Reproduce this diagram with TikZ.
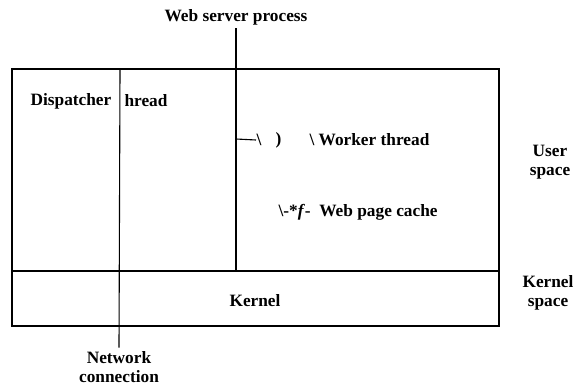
\documentclass[tikz,border=0pt]{standalone}
\usepackage{fontspec}
\setmainfont{Liberation Serif}
\newfontfamily\diagfont{Liberation Serif}
\usetikzlibrary{positioning}
\tikzset{every node/.style={align=center, inner sep=0pt, font=\diagfont\bfseries\fontsize{17.3}{19.5}\selectfont}}

\begin{document}
\begin{tikzpicture}[x=1pt, y=-1pt, line width=1.1pt]
            \useasboundingbox (0,0) rectangle (577,385);
            % outer box and kernel split
            \coordinate (nw) at (12,69);
            \coordinate (se) at (499,326);
            \coordinate (kw) at (12,271);
            \coordinate (ke) at (499,271);
            \draw (nw) rectangle (se);
            \draw (kw) -- (ke);

            \node (wsp) at (236,17) {Web server process};
            \node (disp) at (71,101) {Dispatcher};
            \node (hread) at (146,101) {hread};
            \node (wk1) [anchor=west] at (256,140) {\textbackslash};
            \node (wk2) [anchor=west] at (275,140) {)};
            \node (worker) [anchor=west] at (309,140) {\textbackslash\ Worker thread};
            \node (cache) [anchor=west] at (278,212) {\textbackslash-*\textit{f}-\ \ Web page cache};
            \node (user) at (550,162) {User\\space};
            \node (kernel) at (255,301) {Kernel};
            \node (kspace) at (548,293) {Kernel\\space};
            \node (net) at (119,367) {Network\\connection};

            % split lines
            \coordinate (dtop) at (120,69);
            \coordinate (wbot) at (236,271);
            \coordinate (wmid) at (236,139);
            \draw ([yshift=-3pt]wsp.south) -- (wbot);
            \draw (dtop) -- ([yshift=3pt]net.north);
            \draw (wmid) -- (wk1.west);

        \end{tikzpicture}
\end{document}
